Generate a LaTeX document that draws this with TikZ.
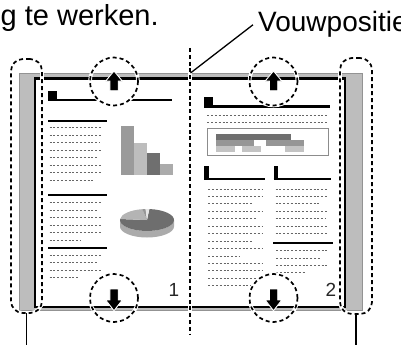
\documentclass[tikz,border=0pt]{standalone}
\usepackage{fontspec}
\setmainfont{Liberation Sans}

\begin{document}
\begin{tikzpicture}[x=1pt, y=-1pt,
  headline/.style={line width=2.3pt},
  textline/.style={draw=black!60, line width=1pt, dash pattern=on 2pt off 1.8pt},
  casing/.style={preaction={draw=white, line width=3.6pt, solid}},
  markbox/.style={draw, casing, line width=1.7pt, dash pattern=on 4pt off 3pt, rounded corners=12pt, inner sep=0pt, outer sep=0pt},
  markring/.style={draw, casing, circle, line width=1.7pt, dash pattern=on 4pt off 3pt, minimum size=48pt, inner sep=0pt, outer sep=0pt},
  bigtext/.style={font=\fontsize{29}{32}\selectfont, inner sep=0pt},
  pagenum/.style={font=\fontsize{19}{22}\selectfont, text=black!85, inner sep=0pt},
  arrowfill/.style={fill=black, draw=white, line width=0.9pt, line join=miter}
]

% Grey tones
\definecolor{BandGray}{HTML}{BDBDBD}
\definecolor{BandEdge}{HTML}{939393}
\definecolor{BarA}{HTML}{9A9A9A}
\definecolor{BarB}{HTML}{BDBDBD}
\definecolor{BarC}{HTML}{6F6F6F}
\definecolor{BarD}{HTML}{ABABAB}
\definecolor{PieDark}{HTML}{6E6E6E}
\definecolor{PieLight}{HTML}{B4B4B4}
\definecolor{PieMid}{HTML}{969696}
\definecolor{PieWhite}{HTML}{E6E6E6}
\definecolor{PieSide}{HTML}{ABABAB}

\useasboundingbox (0,0) rectangle (401,345);

% Texts at the top (cut off in the original)
\node[bigtext, anchor=base west] (cuttext) at (0.5,26) {g te werken.};
\node[bigtext, font=\fontsize{28}{32}\selectfont, anchor=base west] (foldlbl) at (258,32) {Vouwpositie};

% Key points
\coordinate (ulc) at (114,81.5);
\coordinate (urc) at (273.5,81.5);
\coordinate (dlc) at (114,298);
\coordinate (drc) at (273.5,298);
\coordinate (foldtop) at (190,48);
\coordinate (foldbot) at (190,335);
\coordinate (foldhit) at (190.5,73);
\coordinate (endL) at (26.5,345);
\coordinate (endR) at (356,345);

% Left page: heading
\fill (48,91) rectangle (56.5,101);
\draw[headline] (48,100.2) -- (172,100.2);

% Left page: three text blocks
\draw[headline] (48,120.7) -- (106.7,120.7);
\foreach \y/\e in {127.3/102.5, 135/102.5, 142.7/99, 150.3/102.5, 157.8/98.3, 165.3/102.5, 172.7/102.5, 180.3/94}
  \draw[textline] (49.5,\y) -- (\e,\y);
\draw[headline] (48,195) -- (106.7,195);
\foreach \y/\e in {202.9/102.5, 210.3/98.3, 217.8/102.5, 225.3/102.5, 232.9/102.5, 240.6/80}
  \draw[textline] (49.5,\y) -- (\e,\y);
\draw[headline] (48,247.8) -- (106.7,247.8);
\foreach \y/\e in {255.2/102, 262.7/97, 270.3/102, 277.7/79}
  \draw[textline] (49.5,\y) -- (\e,\y);

% Left page: bar chart
\fill[BarA] (121,126) rectangle (134,174.5);
\fill[BarB] (134,142.7) rectangle (147,175);
\fill[BarC] (147,152.7) rectangle (160,174.5);
\fill[BarD] (160,164) rectangle (172.7,174.5);

% Left page: pie chart
\coordinate (pie) at (147,220);
\fill[PieSide] (pie) ++(0:27 and 11) -- ++(0,6.5) arc[start angle=0, end angle=180, x radius=27, y radius=11]
  -- ++(0,-6.5) arc[start angle=180, end angle=0, x radius=27, y radius=11] -- cycle;
\fill[PieDark] (pie) -- ++(-85:27 and 11) arc[start angle=-85, end angle=185, x radius=27, y radius=11] -- cycle;
\fill[PieLight] (pie) -- ++(-175:27 and 11) arc[start angle=-175, end angle=-100, x radius=27, y radius=11] -- cycle;
\fill[PieMid] (pie) -- ++(-100:27 and 11) arc[start angle=-100, end angle=-93, x radius=27, y radius=11] -- cycle;
\fill[PieWhite] (pie) -- ++(-93:27 and 11) arc[start angle=-93, end angle=-85, x radius=27, y radius=11] -- cycle;

% Right page: heading and intro
\fill (204,97.3) rectangle (212.7,107.5);
\draw[headline] (204,106.5) -- (330,106.5);
\foreach \y in {115.7, 122.7}
  \draw[textline] (207.3,\y) -- (326.7,\y);

% Right page: boxed table
\draw[draw=black!45, line width=1.3pt] (207.3,128.7) rectangle (328.7,155.3);
\fill[BarC] (216,134) rectangle (290.7,140);
\fill[PieMid] (216,140) rectangle (254,145.8);
\fill[PieMid] (266,140) rectangle (304,145.8);
\fill[PieLight!80!white] (216,145.8) rectangle (235,151.7);
\fill[PieLight!80!white] (242,145.8) rectangle (260.7,151.7);
\fill[PieLight!80!white] (285,145.8) rectangle (304,151.7);

% Right page: two columns
\fill (204,166) rectangle (208.5,180);
\draw[line width=2pt] (204,179) -- (265,179);
\fill (273.5,166) rectangle (278.3,180);
\draw[line width=2pt] (273.5,179) -- (330.5,179);
\foreach \y/\e in {189/261.7, 196.45/261.7, 203.9/253, 211.35/261.7, 218.8/256.7, 226.25/261.7, 233.7/261.7,
                   241.15/253, 248.6/261.7, 256.05/240, 263.5/261.7, 270.95/261.7, 278.4/261.7, 285.85/253}
  \draw[textline] (208.3,\y) -- (\e,\y);
\foreach \y/\e in {189/328.3, 196.45/328.3, 203.9/320, 211.35/328.3, 218.8/325, 226.25/328.3, 233.7/328.3}
  \draw[textline] (275.5,\y) -- (\e,\y);
\draw[line width=2.2pt] (273.3,242.7) -- (333.3,242.7);
\foreach \y/\e in {250.7/328.3, 258/320, 265.3/328.3, 272.7/305}
  \draw[textline] (276,\y) -- (\e,\y);

% Clear the page content inside the top rings
\foreach \c in {ulc,urc}
  \fill[white] (\c) circle[radius=24pt];

% Cover band and page edge
\filldraw[fill=BandGray, draw=BandEdge, line width=1pt, even odd rule]
  (19,73.5) rectangle (362.5,310.5) (35,78.7) rectangle (345,307);
\draw[line width=2.7pt] (35,78.7) rectangle (345,307);

% Page numbers
\node[pagenum, anchor=base] (num1) at (174,296) {1};
\node[pagenum, anchor=base] (num2) at (331,296) {2};

% Fold line and its label
\draw[casing, line width=1.3pt, dash pattern=on 4pt off 2.8pt] (foldtop) -- (foldbot);
\draw[line width=1.3pt] ([xshift=-5pt]foldlbl.west) -- (foldhit);

% Marked cover edges
\node[markbox, minimum width=31pt, minimum height=254pt] (boxL) at (26.5,186) {};
\node[markbox, minimum width=32pt, minimum height=256pt] (boxR) at (356,186) {};
\draw[line width=1.3pt] (boxL.south) -- (endL);
\draw[line width=1.3pt] (boxR.south) -- (endR);

% Marked page edges with arrows
\node[markring] (ringUL) at (ulc) {};
\node[markring] (ringUR) at (urc) {};
\node[markring] (ringDL) at (dlc) {};
\node[markring] (ringDR) at (drc) {};
\foreach \r in {ringUL,ringUR}
  \filldraw[arrowfill] (\r.center) ++(0,-10.5) -- ++(8.3,10) -- ++(-4.1,0) -- ++(0,9.7) -- ++(-8.4,0) -- ++(0,-9.7) -- ++(-4.1,0) -- cycle;
\foreach \r in {ringDL,ringDR}
  \filldraw[arrowfill] (\r.center) ++(-4.2,-9) -- ++(8.4,0) -- ++(0,11) -- ++(4.1,0) -- ++(-8.3,10.7) -- ++(-8.3,-10.7) -- ++(4.1,0) -- cycle;

\end{tikzpicture}
\end{document}
